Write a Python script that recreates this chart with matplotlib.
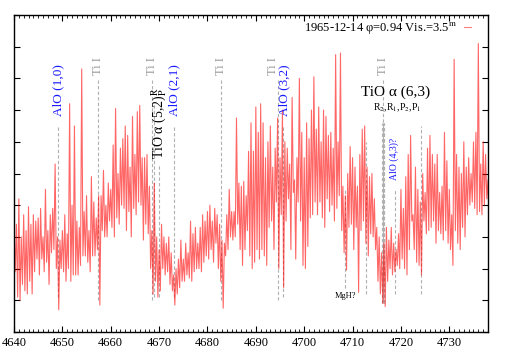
import numpy as np
import matplotlib
matplotlib.use("Agg")
import matplotlib.pyplot as plt
from matplotlib.ticker import MultipleLocator

plt.rcParams['font.family'] = ['Liberation Serif', 'DejaVu Serif']
plt.rcParams['mathtext.fontset'] = 'stix'

# spectrum: upper and lower envelope every 0.5 A
wave0 = 4640.0
step = 0.5
flux_hi = [
    3.3, 3.4, 4.2, 3.0, 3.7, 3.2, 3.95, 3.4, 3.7, 3.5,
    3.6, 3.9, 3.0, 4.5, 3.2, 3.7, 3.9, 5.3, 3.0, 2.9,
    3.2, 3.7, 3.1, 7.2, 4.0, 6.5, 3.5, 3.3, 8.3, 3.8,
    4.3, 3.2, 4.9, 4.1, 3.6, 4.3, 4.3, 5.1, 4.0, 4.7,
    4.5, 5.9, 7.05, 5.0, 5.8, 6.1, 6.5, 6.2, 5.2, 6.8,
    5.6, 6.95, 7.15, 5.5, 5.5, 5.6, 4.6, 3.2, 4.7, 3.0,
    2.6, 3.4, 3.0, 2.8, 3.0, 2.5, 1.8, 2.0, 2.3, 2.9,
    2.3, 2.8, 2.5, 3.5, 3.1, 3.3, 2.8, 3.3, 3.7, 3.5,
    3.8, 4.0, 3.5, 3.9, 3.7, 3.4, 2.9, 2.8, 3.7, 4.5,
    3.8, 3.8, 6.75, 4.7, 4.6, 4.75, 4.3, 5.7, 6.6, 5.7,
    7.1, 6.3, 7.2, 6.6, 5.5, 6.0, 6.5, 5.2, 5.8, 6.75,
    5.5, 7.0, 6.0, 5.8, 5.3, 7.4, 4.8, 5.5, 8.0, 6.3,
    5.5, 6.6, 6.1, 7.0, 8.05, 6.4, 7.1, 6.0, 7.0, 6.8,
    6.2, 6.3, 5.8, 8.75, 6.0, 8.8, 4.6, 4.3, 5.0, 5.85,
    5.5, 5.2, 4.6, 5.6, 6.4, 6.5, 5.2, 4.9, 5.0, 4.2,
    3.3, 3.0, 2.5, 2.8, 3.3, 2.9, 3.3, 2.8, 2.6, 3.1,
    4.5, 3.9, 4.9, 5.6, 6.2, 3.7, 5.2, 4.5, 4.1, 5.0,
    4.4, 5.8, 6.2, 5.6, 5.3, 5.6, 4.4, 4.6, 6.3, 5.4,
    4.5, 3.7, 8.6, 5.6, 5.2, 5.0, 6.0, 5.2, 5.5, 5.0,
    6.0, 6.3, 9.1, 5.3, 6.0, 5.6, 4.8,
]
flux_lo = [
    1.9, 1.1, 1.0, 1.5, 1.3, 1.2, 1.6, 1.2, 1.9, 2.3,
    1.8, 2.3, 1.9, 2.2, 1.5, 2.5, 2.6, 2.0, 0.7, 2.0,
    1.9, 1.6, 2.0, 1.6, 1.8, 1.8, 1.8, 2.1, 2.4, 2.4,
    2.2, 1.9, 2.4, 2.4, 2.6, 0.85, 3.2, 3.0, 3.0, 3.5,
    3.3, 3.0, 3.6, 3.4, 4.0, 3.9, 3.2, 3.8, 3.0, 3.9,
    3.7, 4.1, 4.0, 2.9, 3.4, 3.1, 2.0, 1.2, 1.6, 1.1,
    1.3, 2.0, 1.8, 1.9, 1.5, 1.3, 0.85, 1.2, 1.4, 1.6,
    1.6, 1.8, 1.7, 1.6, 1.9, 2.0, 2.0, 1.9, 2.2, 2.4,
    2.3, 2.6, 2.2, 2.8, 2.0, 1.6, 0.75, 2.4, 2.6, 3.0,
    2.9, 3.0, 3.4, 2.6, 2.1, 2.6, 3.2, 2.4, 2.0, 2.2,
    2.6, 2.3, 2.6, 2.4, 2.1, 3.3, 3.5, 2.6, 4.1, 2.0,
    3.7, 1.4, 3.5, 4.2, 2.6, 4.4, 2.3, 4.1, 3.5, 2.1,
    2.0, 2.7, 3.6, 3.7, 4.1, 3.7, 4.1, 3.6, 3.3, 4.2,
    3.8, 4.0, 3.5, 3.9, 4.3, 3.2, 2.5, 1.95, 3.3, 3.4,
    2.6, 3.3, 1.25, 3.2, 3.5, 2.8, 2.4, 3.1, 3.0, 2.6,
    1.6, 1.2, 0.9, 0.8, 1.6, 2.0, 1.8, 1.9, 2.1, 2.0,
    2.3, 2.0, 1.8, 2.6, 3.5, 2.6, 2.2, 2.1, 1.8, 3.5,
    3.1, 3.2, 3.3, 3.5, 2.8, 3.2, 3.1, 2.9, 3.2, 2.8,
    2.6, 2.1, 3.2, 2.8, 2.6, 3.3, 3.0, 3.7, 4.0, 4.1,
    3.9, 3.7, 3.8, 3.7, 4.0, 4.2, 3.3,
]
legend_label = r'1965-12-14 φ=0.94 Vis.=3.5$^{\rm m}$'

# identified features: wavelength, top and bottom of the marker line
ti_waves = [4657.4, 4668.6, 4682.9, 4694.6, 4716.3]
ti_label_waves = [4657.4, 4668.6, 4682.9, 4693.6, 4716.3]
alo_waves = [4649.1, 4673.0, 4695.7]
alo_label_waves = [4649.1, 4673.1, 4695.9]
alo_labels = ['AlO (1,0)', 'AlO (2,1)', 'AlO (3,2)']
tio52_waves = [4669.0, 4669.9]
tio52_tops = [7.2, 5.3]
tio63_waves = [4716.1, 4716.25, 4716.4, 4716.55]
extra_waves = [4712.7, 4724.2]
extra_tops = [6.0, 6.5]
alo43_wave = 4718.7
mgh_wave = 4708.5

n = len(flux_hi)
waves = wave0 + step * np.arange(n)
x = np.empty(2 * n)
y = np.empty(2 * n)
x[0::2] = waves
x[1::2] = waves + step / 2
y[0::2] = flux_hi
y[1::2] = flux_lo

fig = plt.figure(figsize=(5.09, 3.56), dpi=100)
ax = fig.add_axes([14 / 509, 24 / 356, 474 / 509, 317 / 356])

dash = dict(color='#b0b0b0', lw=0.8, ls=(0, (3, 2)), zorder=1)
for w, wl in zip(ti_waves, ti_label_waves):
    ax.plot([w, w], [1.0, 8.0], **dash)
    ax.text(wl, 8.1, 'Ti I', rotation=90, ha='center', va='bottom',
            color='#999999', fontsize=9)
for w, wl, lab in zip(alo_waves, alo_label_waves, alo_labels):
    ax.plot([w, w], [1.1, 6.5], **dash)
    ax.text(wl, 6.8, lab, rotation=90, ha='center', va='bottom',
            color='#1a1aff', fontsize=9.5)
for w, t in zip(tio52_waves, tio52_tops):
    ax.plot([w, w], [1.1, t], **dash)
ax.text(4670.1, 5.45, r'TiO α (5,2)$^{\rm R}_{\rm P}$', rotation=90,
        ha='center', va='bottom', color='black', fontsize=10)
for w in tio63_waves:
    ax.plot([w, w], [0.9, 6.6], **dash)
ax.text(4718.9, 7.55, 'TiO α (6,3)', ha='center', va='center',
        color='black', fontsize=11)
ax.text(4719.2, 7.08, r'R$_2$,R$_1$,P$_2$,P$_1$', ha='center', va='center',
        color='black', fontsize=7)
for w, t in zip(extra_waves, extra_tops):
    ax.plot([w, w], [1.2, t], **dash)
ax.plot([alo43_wave, alo43_wave], [1.2, 4.5], **dash)
ax.text(alo43_wave, 4.8, 'AlO (4,3)?', rotation=90, ha='center', va='bottom',
        color='#1a1aff', fontsize=7)
ax.plot([mgh_wave, mgh_wave], [1.4, 4.5], **dash)
ax.text(mgh_wave, 1.25, 'MgH?', ha='center', va='top', color='black', fontsize=6)

ax.plot(x, y, color='red', lw=0.8, alpha=0.6, zorder=2, label=legend_label)

ax.set_xlim(4640, 4738)
ax.set_ylim(0, 10)
ax.xaxis.set_major_locator(MultipleLocator(10))
ax.xaxis.set_minor_locator(MultipleLocator(1))
ax.yaxis.set_major_locator(MultipleLocator(1))
ax.tick_params(which='both', direction='in', top=True, right=True, labelsize=9)
ax.tick_params(which='major', length=4)
ax.tick_params(which='minor', length=2)
ax.set_yticklabels([])
for s in ax.spines.values():
    s.set_linewidth(1.0)

leg = ax.legend(loc='upper right', bbox_to_anchor=(0.975, 1.0), borderaxespad=0,
                frameon=False, markerfirst=False, handlelength=0.6,
                handletextpad=0.5, fontsize=9)
leg.get_lines()[0].set_color('#ff8080')
leg.get_lines()[0].set_alpha(1.0)

fig.savefig('out.png', dpi=100)
